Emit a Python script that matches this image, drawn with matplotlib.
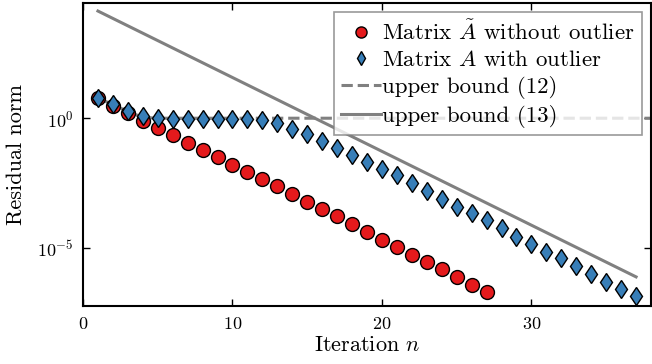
import matplotlib
matplotlib.use('Agg')
import matplotlib.pyplot as plt
import numpy as np

plt.rcParams['font.family'] = 'serif'
plt.rcParams['font.serif'] = ['cmr10']
plt.rcParams['mathtext.fontset'] = 'cm'
plt.rcParams['axes.formatter.use_mathtext'] = True

# log10 of residual norm
iters_a = np.arange(1, 28)
log_res_a = [0.78, 0.46, 0.20, -0.10, -0.37, -0.64, -0.95, -1.22, -1.49, -1.78,
             -2.05, -2.33, -2.62, -2.92, -3.22, -3.50, -3.77, -4.08, -4.37, -4.67,
             -4.97, -5.24, -5.53, -5.81, -6.10, -6.42, -6.70]

iters_b = np.arange(1, 38)
log_res_b = [0.78, 0.53, 0.27, 0.08, 0.01, -0.02, -0.02, -0.02, -0.02, -0.02,
             -0.02, -0.05, -0.18, -0.40, -0.62, -0.88, -1.14, -1.41, -1.67, -1.95,
             -2.20, -2.50, -2.80, -3.10, -3.40, -3.65, -3.93, -4.23, -4.55, -4.85,
             -5.13, -5.38, -5.67, -5.99, -6.28, -6.58, -6.83]

# upper bounds
bound12_n = [1, 2, 3, 4, 5, 38]
log_bound12 = [0.78, 0.52, 0.26, 0.03, 0.0, 0.0]
bound13_n = [1, 37]
log_bound13 = [4.12, -6.1]

red = '#e41a1c'
blue = '#377eb8'
gray = '#808080'

fig = plt.figure(figsize=(6.52, 3.64), dpi=100)
ax = fig.add_axes([0.1273, 0.1593, 0.8712, 0.8325])

ax.plot(iters_a, 10.0 ** np.array(log_res_a), 'o', color=red, mec='k', mew=1,
        ms=10, label=r'Matrix $\tilde{A}$ without outlier', zorder=3)
ax.plot(iters_b, 10.0 ** np.array(log_res_b), 'd', color=blue, mec='k', mew=1,
        ms=9.5, label=r'Matrix $A$ with outlier', zorder=4)
ax.plot(bound12_n, 10.0 ** np.array(log_bound12), '--', color=gray, lw=2.2,
        label='upper bound (12)', zorder=2)
ax.plot(bound13_n, 10.0 ** np.array(log_bound13), '-', color=gray, lw=2.2,
        label='upper bound (13)', zorder=2)

ax.set_yscale('log')
ax.set_xlim(0, 38)
ax.set_ylim(10 ** -7.22, 10 ** 4.43)
ax.set_xticks([0, 10, 20, 30])
ax.set_yticks([1e-5, 1e0])
ax.yaxis.set_minor_locator(matplotlib.ticker.NullLocator())

ax.tick_params(direction='in', top=True, right=True, length=5, width=1,
               labelsize=13, pad=7)
for s in ax.spines.values():
    s.set_linewidth(1.5)

ax.set_xlabel(r'Iteration $n$', fontsize=16, labelpad=3)
ax.set_ylabel('Residual norm', fontsize=16, labelpad=8)

leg = ax.legend(loc='upper right', fontsize=16.5, numpoints=1, fancybox=False,
                framealpha=0.8, edgecolor=gray, handlelength=1.75,
                handletextpad=0.05, borderpad=0.3, labelspacing=0.27,
                borderaxespad=0.4, markerscale=0.8)
leg.get_frame().set_linewidth(1.2)

fig.savefig('out.png', dpi=100)
